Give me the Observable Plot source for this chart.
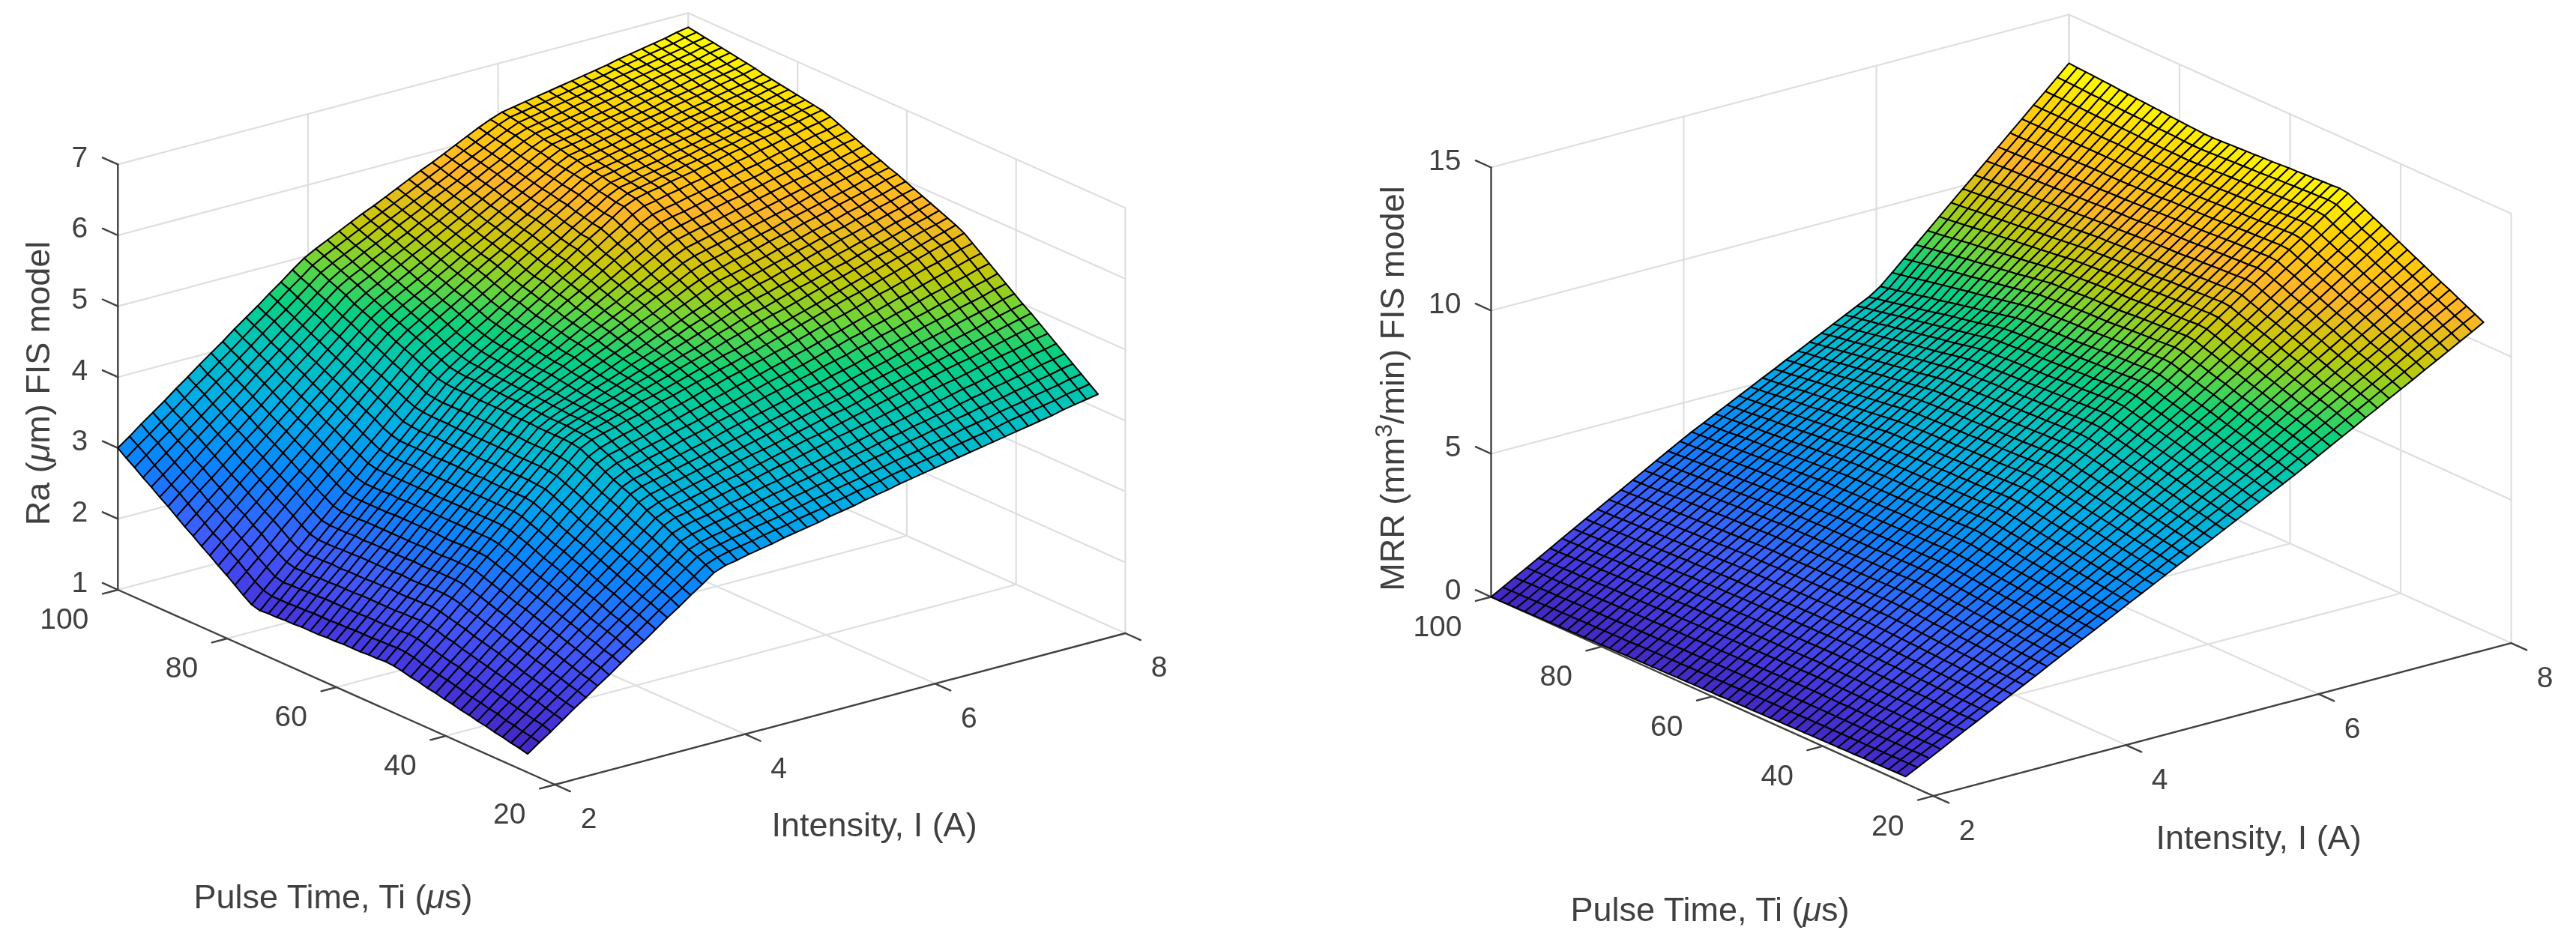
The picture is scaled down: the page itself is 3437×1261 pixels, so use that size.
<!DOCTYPE html>
<html>
<head>
<meta charset="utf-8">
<script src="https://cdn.jsdelivr.net/npm/d3@7"></script>
<script src="https://cdn.jsdelivr.net/npm/@observablehq/plot@0.6"></script>
<style>body{margin:0;background:#fff}svg{display:block}</style>
</head>
<body>
<div id="chart"></div>
<script>
const intensityTicks = [2, 4, 6, 8];
const pulseTicks = [20, 40, 60, 80, 100];
const raTicks = [1, 2, 3, 4, 5, 6, 7];
const mrrTicks = [0, 5, 10, 15];
const intensityRange = [2, 8];
const pulseRange = [25, 100];

// Estimated heights in hundredths, one row per Pulse Time from 25 to 100, one column per Intensity from 2 to 8.
// Only the crease and corner nodes were measured; the nodes between them are hand estimates.
const raCenti = [
[126,138,149,161,173,184,196,207,219,231,242,254,266,277,289,300,312,318,321,325,328,331,335,338,341,344,348,351,354,358,361,364,368,371,374,377,380,383,386,389,392,395,398,401,404,407,411,414,417,420],
[129,141,153,164,176,188,200,212,224,235,247,259,271,283,294,306,318,324,328,331,334,338,341,344,348,351,354,358,361,365,368,371,375,378,381,384,387,391,394,397,400,403,407,410,413,416,419,423,426,429],
[131,143,155,167,179,191,203,215,227,240,252,264,276,288,300,312,324,330,333,337,340,344,347,350,354,357,361,364,368,371,374,378,381,385,388,391,395,398,401,405,408,411,415,418,421,425,428,431,435,438],
[134,146,158,171,183,195,207,219,232,244,256,268,280,292,305,317,329,335,339,342,346,349,353,357,360,364,367,371,374,378,381,385,389,392,396,399,402,406,409,413,416,420,423,426,430,433,437,440,444,447],
[136,148,161,173,186,198,211,223,235,248,260,273,285,298,310,322,335,341,345,349,352,356,359,363,367,370,374,377,381,385,388,392,395,399,403,406,410,413,417,420,424,428,431,435,438,442,445,449,452,456],
[139,152,164,177,189,202,215,227,240,252,265,278,290,303,316,328,341,347,351,354,358,362,365,369,373,376,380,384,387,391,395,398,402,406,410,413,417,421,424,428,432,436,439,443,447,450,454,458,461,465],
[141,154,167,180,192,205,218,231,244,257,270,282,295,308,321,334,347,354,357,361,365,369,373,376,380,384,388,391,395,399,403,407,410,414,417,421,425,429,433,437,441,444,448,452,456,460,463,467,471,474],
[144,157,170,183,196,209,222,235,248,261,274,287,300,313,326,339,352,359,363,367,371,375,379,382,386,390,394,398,402,406,409,413,417,421,425,429,433,437,441,445,449,453,457,460,464,468,472,476,480,483],
[146,159,172,186,199,212,225,239,252,265,278,292,305,318,331,344,358,365,369,373,377,381,385,389,393,397,400,404,408,412,416,420,424,427,431,436,440,444,448,452,456,460,464,468,472,476,480,484,488,492],
[149,162,176,189,203,216,229,243,256,270,283,297,310,323,337,350,364,371,375,379,383,387,391,395,399,403,407,411,415,419,423,427,430,434,438,443,447,451,455,459,463,467,471,475,479,483,488,492,496,500],
[151,165,178,192,206,219,233,247,260,274,288,301,315,329,342,356,370,377,381,385,389,393,397,401,405,409,413,417,421,425,429,434,438,441,445,450,454,458,462,467,471,475,479,483,488,492,496,500,505,509],
[154,168,182,195,209,223,237,250,264,278,292,306,319,333,347,361,375,382,386,391,395,399,403,407,411,416,420,424,428,432,436,441,445,448,453,457,461,466,470,474,479,483,488,492,496,501,505,509,514,518],
[156,170,184,198,212,226,240,254,268,282,296,310,324,338,352,366,380,388,392,397,401,405,410,414,418,423,427,431,435,440,444,448,452,456,461,465,469,474,478,483,487,492,496,500,505,509,514,518,522,527],
[159,173,187,202,216,230,244,258,273,287,301,315,329,344,358,372,386,394,398,403,407,411,416,420,424,429,433,437,442,446,451,455,459,463,468,473,477,482,486,491,495,500,504,509,514,518,523,527,532,536],
[161,175,190,204,219,233,248,262,277,291,306,320,335,349,363,378,392,400,404,409,413,418,422,426,431,435,440,444,449,453,457,462,466,471,475,480,485,489,494,499,503,508,513,517,522,527,532,536,541,545],
[164,179,193,208,222,237,251,266,281,295,310,324,339,354,368,383,397,405,410,415,419,424,428,433,437,442,447,451,456,460,465,469,474,478,483,488,493,498,502,507,512,517,521,526,531,536,540,545,550,554],
[166,181,196,210,225,240,255,270,285,299,314,329,344,359,373,388,403,411,416,420,425,429,434,439,443,448,453,457,462,466,471,475,480,485,490,495,500,505,510,515,519,524,529,534,539,544,549,554,558,563],
[167,182,197,212,227,241,256,271,286,301,316,331,346,360,375,390,405,413,418,423,428,433,438,442,447,452,457,462,467,472,476,481,486,491,495,500,505,510,515,520,525,530,535,540,545,549,554,559,564,569],
[166,181,196,211,226,241,256,271,286,301,316,331,346,361,376,391,406,414,420,425,430,435,441,446,451,456,462,467,472,477,483,488,493,498,503,507,512,517,522,527,531,536,541,546,550,555,560,565,569,574],
[166,181,196,211,226,241,256,271,286,301,316,331,346,361,376,391,406,415,421,426,432,437,443,449,454,460,465,471,476,482,488,493,499,504,508,513,518,523,527,532,537,541,546,551,555,560,565,570,574,579],
[165,180,195,210,225,240,255,270,285,301,316,331,346,361,376,391,406,415,421,427,433,439,445,451,457,463,469,475,481,487,493,499,505,510,515,519,524,528,533,538,542,547,551,556,560,565,570,574,579,584],
[165,180,195,210,225,240,255,270,285,301,316,331,346,361,376,391,406,415,422,428,434,441,447,453,460,466,472,479,485,492,498,504,511,517,521,526,530,535,539,544,549,553,558,562,567,571,576,580,585,589],
[165,180,195,210,226,241,256,271,286,301,316,331,347,362,377,392,407,416,423,429,436,443,449,456,463,469,476,483,489,496,503,509,516,523,527,532,536,541,545,550,554,559,563,567,572,576,581,585,590,594],
[164,179,194,210,225,240,255,270,286,301,316,331,346,361,377,392,407,417,424,431,438,445,452,459,466,473,481,488,495,502,509,516,523,529,533,537,542,546,551,555,559,564,568,572,577,581,586,590,595,599],
[164,179,194,210,225,240,255,270,286,301,316,331,346,361,377,392,407,417,425,432,440,447,454,462,469,477,484,492,499,507,514,522,529,535,539,544,548,552,557,561,565,570,574,578,583,587,591,595,600,604],
[163,178,194,209,224,240,255,270,286,301,316,331,347,362,377,393,408,418,426,434,442,450,458,466,473,481,489,497,505,513,520,528,536,542,546,550,554,558,562,566,571,575,579,583,587,591,595,600,604,608],
[163,178,194,209,224,240,255,270,286,301,316,331,347,362,377,393,408,418,426,435,443,451,459,468,476,484,492,500,509,517,525,533,542,548,552,556,560,564,568,572,576,580,584,589,593,597,601,605,609,613],
[163,178,194,209,224,240,255,270,286,301,316,331,347,362,377,393,408,419,427,436,444,453,461,470,479,487,496,504,513,521,530,539,547,554,558,562,566,570,574,578,582,586,590,594,598,602,606,610,614,618],
[162,177,193,208,223,239,254,270,285,300,316,331,346,362,377,393,408,419,428,437,446,455,464,473,482,491,500,509,518,527,536,545,554,561,565,569,572,576,580,584,588,592,596,600,603,607,611,615,619,623],
[162,177,193,208,224,239,255,270,285,301,316,332,347,363,378,393,409,420,429,438,448,457,466,476,485,494,504,513,522,532,541,550,560,567,571,575,579,583,587,590,594,598,602,606,609,613,617,621,625,628],
[161,176,192,207,223,238,254,269,285,300,316,331,347,362,378,393,409,421,430,440,450,460,469,479,489,499,508,518,528,538,548,557,567,574,578,581,585,589,592,596,600,603,607,611,614,618,622,626,629,633],
[161,176,192,207,223,238,254,269,285,300,316,331,347,362,378,393,409,421,431,441,451,461,471,481,492,502,512,522,532,542,552,562,572,580,584,587,591,594,598,602,605,609,612,616,620,623,627,631,634,638],
[160,176,191,207,222,238,254,269,285,300,316,332,347,363,379,394,410,422,432,443,453,464,474,485,495,506,516,526,537,547,558,568,579,587,590,594,597,601,604,608,611,615,618,622,625,629,632,636,639,643],
[163,179,194,210,225,241,256,272,287,303,319,334,350,365,381,396,412,424,435,446,456,467,478,489,499,510,521,531,542,553,563,574,585,592,596,599,603,606,609,613,616,620,623,627,630,633,637,640,644,647],
[171,186,202,217,232,248,263,279,294,309,325,340,355,371,386,402,417,429,439,450,460,470,481,491,502,512,523,533,544,554,565,575,586,594,598,601,605,608,612,615,618,622,625,629,632,636,639,642,646,649],
[180,195,210,225,241,256,271,286,301,316,331,346,362,377,392,407,422,434,444,454,465,475,485,496,506,516,527,537,547,558,568,578,589,597,600,604,607,610,614,617,621,624,627,631,634,637,641,644,648,651],
[189,204,219,234,249,264,279,294,309,323,338,353,368,383,398,413,428,440,450,460,470,480,490,500,510,521,531,541,551,561,571,581,591,599,602,606,609,612,616,619,622,626,629,633,636,639,643,646,649,653],
[197,212,227,241,256,271,286,300,315,330,345,359,374,389,404,418,433,445,455,465,475,485,495,505,515,525,535,545,555,565,575,585,595,602,605,609,612,615,619,622,625,628,632,635,638,642,645,648,652,655],
[206,221,235,250,264,279,293,308,322,337,351,366,380,395,409,424,438,450,460,470,479,489,499,509,519,528,538,548,558,568,577,587,597,604,607,610,614,617,620,624,627,630,634,637,640,644,647,650,654,657],
[214,228,243,257,272,286,300,315,329,344,358,372,387,401,415,430,444,455,465,475,484,494,503,513,522,532,541,551,560,570,580,589,599,606,609,613,616,619,623,626,629,633,636,639,643,646,649,652,656,659],
[223,237,251,265,280,294,308,322,336,350,365,379,393,407,421,435,449,460,470,479,488,498,507,517,526,535,545,554,564,573,582,592,601,609,612,615,618,622,625,628,631,635,638,641,644,648,651,654,657,661],
[231,245,259,273,287,301,315,329,343,357,371,385,399,413,427,441,455,466,475,484,493,502,512,521,530,539,548,558,567,576,585,594,603,611,614,617,621,624,627,631,634,637,641,644,647,650,654,657,660,664],
[240,254,268,281,295,309,323,336,350,364,378,392,405,419,433,447,460,471,480,489,498,507,516,525,534,543,552,561,570,579,588,597,606,614,617,620,623,626,630,633,636,639,643,646,649,652,656,659,662,666],
[249,263,276,290,303,317,330,344,357,371,384,398,411,425,438,452,465,476,485,494,503,512,520,529,538,547,556,565,574,582,591,600,609,616,619,622,625,629,632,635,638,642,645,648,651,655,658,661,664,668],
[257,270,284,297,311,324,337,351,364,378,391,405,418,431,445,458,472,482,490,499,508,516,525,534,542,551,560,568,577,586,594,603,611,618,621,624,628,631,634,637,641,644,647,650,654,657,660,663,667,670],
[266,279,292,306,319,332,345,358,371,385,398,411,424,437,450,464,477,487,495,504,512,521,529,538,546,555,563,572,580,589,597,606,614,621,624,627,630,633,637,640,643,646,649,653,656,659,662,665,669,672],
[274,287,300,313,326,339,352,365,378,391,404,417,430,443,456,469,482,492,500,509,517,525,534,542,550,559,567,575,584,592,600,609,617,623,626,629,632,636,639,642,645,648,652,655,658,661,664,667,671,674],
[283,296,309,321,334,347,360,373,385,398,411,424,437,449,462,475,488,497,505,513,521,530,538,546,554,562,570,578,587,595,603,611,619,626,629,632,635,638,641,644,647,651,654,657,660,663,666,669,673,676],
[291,304,316,329,341,354,367,379,392,404,417,430,442,455,468,480,493,502,510,518,526,534,542,550,558,566,574,582,590,598,606,614,622,628,631,634,637,640,643,646,649,652,656,659,662,665,668,671,675,678],
[300,312,325,337,349,362,374,387,399,411,424,436,448,461,473,486,498,507,515,523,531,539,546,554,562,570,578,585,593,601,609,617,624,630,633,636,639,642,645,648,651,654,657,661,664,667,670,673,677,680]
];

const mrrCenti = [
[24,45,66,87,109,130,151,172,193,214,235,256,278,299,320,341,362,383,404,425,446,467,488,509,530,551,572,593,614,635,656,677,698,719,741,763,786,808,830,853,875,898,920,942,965,987,1009,1032,1054,1077],
[24,45,67,88,109,131,152,173,194,216,237,258,280,301,322,344,365,386,407,429,450,471,492,514,535,556,578,599,620,641,663,684,705,728,751,774,797,819,842,865,888,911,933,956,979,1002,1024,1047,1070,1092],
[23,45,66,88,109,131,152,174,195,217,239,260,282,303,325,346,368,390,411,433,455,477,498,520,542,563,585,607,628,650,672,693,715,737,760,784,807,830,853,876,899,922,945,968,992,1015,1038,1061,1084,1107],
[23,45,66,88,110,132,153,175,197,219,240,262,284,306,327,349,371,393,415,437,459,481,503,525,547,569,591,613,635,657,679,701,723,745,769,793,817,840,864,887,911,934,958,982,1005,1029,1052,1076,1099,1122],
[22,44,66,88,110,132,154,176,198,220,242,264,286,308,330,352,374,396,418,441,463,485,508,530,552,575,597,619,642,664,686,709,731,754,778,802,826,850,874,898,922,946,970,994,1018,1042,1066,1090,1113,1137],
[22,44,66,89,111,133,155,178,200,222,244,267,289,311,333,355,378,400,423,445,468,490,513,535,558,581,603,626,648,671,693,716,739,762,786,810,835,859,883,907,932,956,980,1005,1029,1053,1078,1102,1126,1151],
[21,43,66,88,111,133,156,178,201,223,246,268,291,313,336,358,381,403,426,449,472,495,518,541,564,587,610,633,656,679,702,725,748,771,796,821,845,870,895,920,944,969,994,1019,1043,1068,1093,1118,1142,1166],
[21,44,66,89,112,134,157,180,202,225,248,270,293,316,338,361,384,407,430,453,477,500,523,546,570,593,616,639,663,686,709,732,755,779,804,829,855,880,905,930,955,980,1005,1030,1056,1081,1106,1131,1156,1181],
[20,43,66,89,112,135,157,180,203,226,249,272,295,318,341,364,386,410,434,458,481,505,529,552,576,600,623,647,670,694,718,741,765,788,814,840,865,891,916,942,967,993,1018,1044,1069,1095,1120,1146,1171,1196],
[20,43,66,89,112,135,159,182,205,228,251,274,297,320,343,366,389,413,437,461,485,509,533,557,581,605,629,653,677,701,725,749,772,797,823,848,874,900,926,952,978,1004,1029,1055,1081,1107,1133,1159,1185,1211],
[19,42,66,89,112,136,159,182,206,229,252,276,299,322,346,369,392,416,441,465,489,514,538,562,587,611,635,660,684,708,733,757,781,806,832,858,884,911,937,963,989,1016,1042,1068,1094,1121,1147,1173,1200,1226],
[19,43,66,90,113,137,160,184,207,231,254,278,301,325,348,372,395,419,444,469,493,518,543,567,592,617,641,666,690,715,740,764,789,814,841,868,894,921,948,975,1001,1028,1055,1081,1108,1135,1161,1188,1215,1241],
[18,42,66,89,113,137,161,184,208,232,256,279,303,327,351,374,398,423,448,473,498,523,548,573,597,622,647,672,697,722,747,772,797,822,849,876,903,930,958,985,1012,1039,1066,1093,1120,1148,1175,1202,1229,1256],
[18,42,66,90,114,138,162,186,210,234,258,282,306,330,354,378,402,427,452,477,503,528,553,578,603,629,654,679,704,729,755,780,805,831,858,885,913,940,968,995,1022,1050,1077,1105,1132,1160,1187,1215,1242,1270],
[17,41,66,90,114,138,163,187,211,235,260,284,308,332,356,381,405,430,456,481,507,532,558,583,609,634,660,685,711,736,762,787,813,839,867,895,923,951,979,1006,1034,1062,1090,1118,1146,1174,1201,1229,1257,1285],
[17,41,66,90,115,139,164,188,212,237,261,286,310,335,359,383,408,433,459,485,511,537,563,589,615,641,666,692,718,744,770,796,822,848,876,904,932,961,989,1017,1045,1074,1102,1130,1158,1187,1215,1243,1272,1300],
[16,41,65,90,115,139,164,189,213,238,263,287,312,337,362,386,411,437,463,489,515,541,568,594,620,646,672,698,725,751,777,803,830,856,885,913,942,971,1000,1028,1057,1086,1114,1143,1172,1200,1229,1258,1286,1315],
[16,41,65,90,115,140,164,189,214,239,263,288,313,338,362,387,412,438,464,490,517,543,569,595,622,648,674,700,727,753,779,806,832,858,887,916,945,974,1002,1031,1060,1089,1118,1146,1175,1204,1233,1262,1290,1319],
[15,40,64,89,114,139,163,188,213,238,262,287,312,337,361,386,411,437,463,489,516,542,568,594,620,647,673,699,725,751,778,804,830,856,885,914,943,971,1000,1029,1058,1087,1115,1144,1173,1202,1231,1259,1288,1317],
[15,40,64,89,114,138,163,188,212,237,262,286,311,336,361,385,410,436,462,488,514,540,567,593,619,645,671,697,724,750,776,802,828,854,883,912,941,970,999,1028,1056,1085,1114,1143,1172,1201,1230,1259,1287,1316],
[14,39,63,88,113,138,162,187,212,237,261,286,311,336,360,385,410,435,461,487,513,539,565,591,617,644,670,696,722,748,774,800,826,853,882,911,939,968,997,1026,1055,1084,1112,1141,1170,1199,1228,1256,1285,1314],
[14,39,63,88,113,137,162,187,211,236,261,285,310,335,360,384,409,434,460,486,512,538,564,590,616,642,668,694,720,746,772,798,824,851,880,909,938,967,995,1024,1053,1082,1111,1140,1169,1197,1226,1255,1284,1313],
[13,38,62,87,112,137,161,186,211,236,260,285,310,335,359,384,409,434,460,486,512,538,564,590,615,641,667,693,719,745,771,797,823,849,878,907,936,964,993,1022,1051,1080,1109,1138,1167,1195,1224,1253,1282,1311],
[13,38,62,87,112,136,161,186,210,235,260,284,309,334,358,383,408,433,459,485,511,536,562,588,614,640,666,691,717,743,769,795,821,847,876,905,934,963,992,1021,1050,1079,1108,1136,1165,1194,1223,1252,1281,1310],
[12,37,61,86,111,136,160,185,210,235,259,284,309,334,358,383,408,433,459,484,510,536,562,587,613,639,664,690,716,742,767,793,819,845,874,902,931,960,989,1018,1047,1076,1105,1134,1163,1192,1221,1250,1279,1308],
[12,37,61,86,111,135,160,185,209,234,259,283,308,333,358,382,407,432,458,483,509,535,560,586,612,637,663,688,714,740,765,791,817,843,872,900,929,958,987,1016,1045,1074,1103,1132,1161,1190,1219,1248,1277,1306],
[11,36,60,85,110,134,159,184,208,233,258,282,307,332,357,381,406,431,456,482,508,533,559,584,610,636,661,687,712,738,764,789,815,841,870,899,928,957,986,1015,1044,1073,1102,1131,1160,1189,1218,1247,1276,1305],
[11,36,60,85,110,134,159,184,208,233,258,282,307,332,357,381,406,431,456,482,507,533,558,584,609,635,660,686,711,737,762,788,813,840,869,898,927,956,985,1014,1043,1072,1101,1130,1159,1187,1216,1245,1274,1303],
[10,35,59,84,109,133,158,183,207,232,257,281,306,331,356,380,405,430,456,481,507,532,558,583,608,634,659,685,710,736,761,786,812,839,868,897,926,955,984,1013,1042,1071,1100,1129,1158,1186,1215,1244,1273,1302],
[10,35,59,84,109,133,158,183,207,232,257,281,306,331,356,380,405,430,455,481,506,531,557,582,607,633,658,683,709,734,759,785,810,837,866,895,924,953,982,1011,1040,1069,1098,1127,1156,1184,1213,1242,1271,1300],
[9,34,58,83,108,132,157,182,206,231,256,280,305,330,355,379,404,429,454,479,505,530,555,581,606,631,656,682,707,732,758,783,808,835,864,893,922,951,980,1009,1038,1067,1097,1126,1155,1184,1213,1242,1270,1299],
[9,34,58,83,107,132,157,181,206,231,255,280,304,329,354,378,403,428,453,478,503,529,554,579,604,629,655,680,705,730,755,781,806,833,862,891,920,949,978,1007,1036,1065,1094,1123,1152,1181,1210,1239,1268,1297],
[8,33,57,82,107,131,156,181,205,230,255,279,304,329,354,378,403,428,453,478,503,528,553,578,603,628,653,678,704,729,754,779,804,831,860,889,918,947,976,1005,1034,1063,1092,1122,1151,1180,1209,1238,1267,1296],
[8,33,57,82,106,131,155,180,204,229,254,278,303,327,352,376,401,426,451,476,501,526,551,576,601,626,651,676,701,726,751,776,801,828,857,887,916,945,974,1004,1033,1062,1092,1121,1150,1179,1209,1238,1267,1296],
[7,31,56,80,105,129,154,178,203,227,252,276,301,325,350,374,399,424,448,473,498,523,547,572,597,622,646,671,696,721,746,770,795,821,851,881,911,940,970,1000,1030,1060,1090,1119,1149,1179,1209,1239,1268,1298],
[7,31,56,80,104,129,153,178,202,226,251,275,299,324,348,373,397,421,445,470,494,519,543,568,592,617,641,666,690,715,739,763,788,815,845,875,906,936,966,997,1027,1057,1088,1118,1148,1179,1209,1239,1270,1300],
[6,30,55,79,103,128,152,176,200,225,249,273,298,322,346,371,395,419,443,467,491,515,540,564,588,612,636,660,685,709,733,757,781,808,839,870,901,932,962,993,1024,1055,1086,1117,1147,1178,1209,1240,1271,1302],
[6,30,54,79,103,127,151,175,200,224,248,272,296,320,345,369,393,417,441,465,488,512,536,560,584,608,632,656,680,703,727,751,775,801,833,864,895,927,958,990,1021,1052,1084,1115,1147,1178,1209,1241,1272,1304],
[5,29,53,77,102,126,150,174,198,222,246,270,295,319,343,367,391,415,438,462,486,509,533,557,580,604,627,651,675,698,722,745,769,796,827,859,891,923,955,987,1019,1051,1083,1115,1147,1179,1211,1243,1275,1307],
[5,29,53,77,101,125,149,173,197,221,245,269,293,317,341,365,389,413,436,459,483,506,529,553,576,599,623,646,669,693,716,739,763,789,821,854,886,919,951,984,1016,1049,1081,1114,1147,1179,1212,1244,1277,1309],
[4,28,52,76,100,124,148,172,196,219,243,267,291,315,339,363,387,410,433,456,479,502,526,549,572,595,618,641,664,687,710,733,757,783,816,849,882,915,948,981,1014,1047,1080,1113,1146,1179,1212,1245,1278,1311],
[4,28,52,75,99,123,147,171,195,218,242,266,290,314,337,361,385,408,431,454,477,499,522,545,568,591,613,636,659,682,705,727,750,776,810,843,877,910,944,977,1011,1044,1078,1112,1145,1179,1212,1246,1279,1313],
[3,27,51,74,98,122,146,169,193,217,241,264,288,312,336,359,383,406,428,451,473,496,518,541,563,586,608,631,653,676,698,720,743,769,804,838,872,906,940,974,1008,1042,1076,1110,1145,1179,1213,1247,1281,1315],
[3,27,50,74,98,121,145,168,192,216,239,263,287,310,334,358,381,404,426,448,470,493,515,537,559,581,604,626,648,670,692,715,737,764,798,833,868,902,937,971,1006,1041,1075,1110,1144,1179,1213,1248,1282,1317],
[2,26,49,73,96,120,143,167,191,214,238,261,285,308,332,356,379,402,424,446,468,490,512,534,555,577,599,621,643,665,687,709,731,757,792,827,862,898,933,968,1003,1038,1073,1109,1144,1179,1214,1249,1285,1320],
[2,25,49,72,96,119,143,166,190,213,236,260,283,307,330,354,377,399,421,443,464,486,508,529,551,572,594,616,637,659,680,702,724,750,786,822,858,893,929,965,1001,1036,1072,1108,1144,1179,1215,1251,1286,1322],
[1,24,48,71,95,118,141,165,188,212,235,258,282,305,328,352,375,397,418,440,461,482,504,525,547,568,589,611,632,654,675,696,718,744,780,817,853,889,925,962,998,1034,1071,1107,1143,1179,1216,1252,1288,1324],
[1,24,48,71,94,117,141,164,187,210,234,257,280,304,327,350,373,395,416,437,458,479,500,521,542,563,585,606,627,648,669,690,711,737,774,811,848,884,921,958,995,1032,1069,1105,1142,1179,1216,1253,1290,1326],
[0,23,46,70,93,116,139,162,186,209,232,255,279,302,325,348,371,393,414,435,456,476,497,518,539,560,581,601,622,643,664,685,706,731,768,806,843,880,917,955,992,1029,1067,1104,1141,1179,1216,1253,1291,1328],
[0,23,46,69,92,115,139,162,185,208,231,254,277,300,323,346,369,391,411,432,452,473,493,514,534,555,575,596,616,637,657,678,698,725,762,800,838,876,914,952,990,1027,1065,1103,1141,1179,1217,1254,1292,1330]
];

const parulaStops = [0, 0.08, 0.18, 0.3, 0.42, 0.52, 0.6, 0.66, 0.73, 0.82, 0.92, 1];
const parulaColors = ["#4326c0", "#4638e0", "#3f5cff", "#0a84ff", "#00aee6", "#00c4bc", "#08d080", "#60d640", "#c4c808", "#ffb428", "#ffd200", "#ffff00"];

const views = [
  {name: "ra", table: raCenti, ticks: raTicks, origin: [740, 1046.5], iVec: [126.83, -33.67], tVec: [-7.29, -3.25], zStep: -94.6, tickZ: 1,
    zTitle: "Ra (μm) FIS model", zTitlePos: [51, 511], tiTitlePos: [444, 1197], iTitlePos: [1166, 1101]},
  {name: "mrr", table: mrrCenti, ticks: mrrTicks, origin: [2579, 1061.6], iVec: [128.5, -34], tVec: [-7.375, -3.32], zStep: -38.2, tickZ: 0,
    zTitle: "MRR (mm3/min) FIS model", zTitlePos: [1858, 518], tiTitlePos: [2281, 1214], iTitlePos: [3013, 1118]}
];

function projector(v) {
  return (I, T, z) => [
    v.origin[0] + (I - 2) * v.iVec[0] + (T - 20) * v.tVec[0],
    v.origin[1] + (I - 2) * v.iVec[1] + (T - 20) * v.tVec[1] + (z - v.tickZ) * v.zStep
  ];
}

const gridPts = [], axisPts = [], facePts = [], rightAlignedText = [], centredText = [], titles = [];
for (const v of views) {
  const p = projector(v);
  const zMin = d3.min(v.ticks), zMax = d3.max(v.ticks);
  const seg = (out, id, a, b) => { out.push({id, x: a[0], y: a[1]}, {id, x: b[0], y: b[1]}); };
  const key = (s) => v.name + s;

  // grid on the floor and the two back walls
  for (const I of intensityTicks) {
    if (I > 2) seg(gridPts, key("fi" + I), p(I, 20, zMin), p(I, 100, zMin));
    if (I > 2) seg(gridPts, key("wi" + I), p(I, 100, zMin), p(I, 100, zMax));
  }
  for (const T of pulseTicks) {
    if (T > 20) seg(gridPts, key("ft" + T), p(2, T, zMin), p(8, T, zMin));
    seg(gridPts, key("wt" + T), p(8, T, zMin), p(8, T, zMax));
  }
  for (const z of v.ticks) {
    if (z > zMin) {
      seg(gridPts, key("a" + z), p(2, 100, z), p(8, 100, z));
      seg(gridPts, key("b" + z), p(8, 100, z), p(8, 20, z));
    }
  }

  // axes and ticks
  seg(axisPts, key("z"), p(2, 100, zMin), p(2, 100, zMax));
  seg(axisPts, key("t"), p(2, 100, zMin), p(2, 20, zMin));
  seg(axisPts, key("i"), p(2, 20, zMin), p(8, 20, zMin));
  for (const z of v.ticks) {
    seg(axisPts, key("zt" + z), p(2, 100, z), p(2, 100 + 2.8, z));
    rightAlignedText.push({x: p(2, 100, z)[0] - 40, y: p(2, 100, z)[1] - 9, text: String(z)});
  }
  for (const T of pulseTicks) {
    seg(axisPts, key("tt" + T), p(2, T, zMin), p(2 - 0.16, T, zMin));
    rightAlignedText.push({x: p(2, T, zMin)[0] - 39, y: p(2, T, zMin)[1] + 40, text: String(T)});
  }
  for (const I of intensityTicks) {
    seg(axisPts, key("it" + I), p(I, 20, zMin), p(I, 20 - 2.8, zMin));
    centredText.push({x: p(I, 20, zMin)[0] + 45, y: p(I, 20, zMin)[1] + 46, text: String(I)});
  }

  titles.push({x: v.zTitlePos[0], y: v.zTitlePos[1], text: v.zTitle, rotate: -90});
  titles.push({x: v.tiTitlePos[0], y: v.tiTitlePos[1], text: "Pulse Time, Ti (μs)", rotate: 0});
  titles.push({x: v.iTitlePos[0], y: v.iTitlePos[1], text: "Intensity, I (A)", rotate: 0});

  // mesh, painted from the far corner to the near one
  const rows = v.table.length, cols = v.table[0].length;
  const low = d3.min(v.table.flat()), high = d3.max(v.table.flat());
  const I = (i) => intensityRange[0] + (intensityRange[1] - intensityRange[0]) * i / (cols - 1);
  const T = (j) => pulseRange[0] + (pulseRange[1] - pulseRange[0]) * j / (rows - 1);
  for (let j = rows - 2; j >= 0; j--) {
    for (let i = cols - 2; i >= 0; i--) {
      const corners = [[j, i], [j, i + 1], [j + 1, i + 1], [j + 1, i], [j, i]];
      const level = (d3.sum(corners.slice(0, 4), ([b, a]) => v.table[b][a]) / 4 - low) / (high - low);
      const id = key(`c${j}_${i}`);
      for (const [b, a] of corners) {
        const [x, y] = p(I(a), T(b), v.table[b][a] / 100);
        facePts.push({id, x, y, level});
      }
    }
  }
}

const chart = Plot.plot({
  width: 3437,
  height: 1261,
  margin: 0,
  style: {fontFamily: "'Liberation Sans', Arial, sans-serif", background: "#fff", filter: "blur(0.7px)"},
  x: {domain: [0, 3437], range: [0, 3437], axis: null},
  y: {domain: [0, 1261], range: [0, 1261], axis: null},
  color: {type: "linear", domain: parulaStops, range: parulaColors, interpolate: "rgb", clamp: true},
  marks: [
    Plot.line(gridPts, {x: "x", y: "y", z: "id", stroke: "#dedede", strokeWidth: 2.2, curve: "linear"}),
    Plot.line(axisPts, {x: "x", y: "y", z: "id", stroke: "#404040", strokeWidth: 2.4, curve: "linear"}),
    Plot.line(facePts, {x: "x", y: "y", z: "id", fill: "level", stroke: "#000", strokeWidth: 2, strokeLinejoin: "round", curve: "linear"}),
    Plot.text(rightAlignedText, {x: "x", y: "y", text: "text", textAnchor: "end", fontSize: 39, fill: "#404040"}),
    Plot.text(centredText, {x: "x", y: "y", text: "text", textAnchor: "middle", fontSize: 39, fill: "#404040"}),
    Plot.text(titles, {x: "x", y: "y", text: "text", rotate: "rotate", fontSize: 45, fill: "#404040"})
  ]
});

for (const t of chart.querySelectorAll("text")) {
  const s = t.textContent;
  if (s.includes("μ")) t.innerHTML = s.replace("μ", '<tspan font-style="italic">μ</tspan>');
  if (s.includes("mm3")) t.innerHTML = 'MRR (mm<tspan dy="-16" font-size="32">3</tspan><tspan dy="16">/min) FIS model</tspan>';
}
document.getElementById("chart").appendChild(chart);
</script>
</body>
</html>
